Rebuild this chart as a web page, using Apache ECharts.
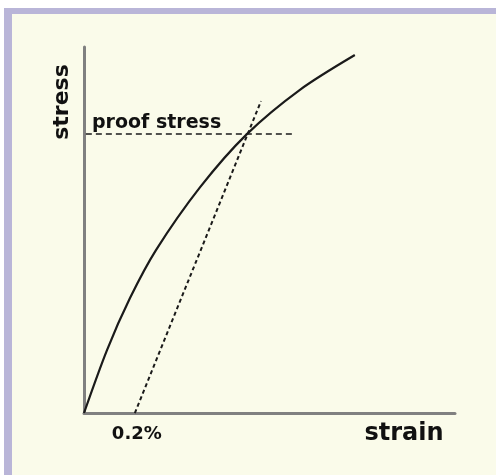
<!DOCTYPE html>
<html>
<head>
<meta charset="utf-8">
<script src="https://cdn.jsdelivr.net/npm/echarts@6/dist/echarts.min.js"></script>
<style>
  html, body { margin: 0; padding: 0; background: #fff; }
  #frame {
    position: absolute; left: 4px; top: 8px; width: 492px; height: 467px;
    box-sizing: border-box;
    border-left: 8px solid #b9b5d8; border-top: 6px solid #b9b5d8;
    background: #fafbea;
  }
  #chart { position: absolute; left: 0; top: 0; width: 496px; height: 475px; }
</style>
</head>
<body>
<div id="frame"></div>
<div id="chart"></div>
<script>
// stress-strain curve (normalised units)
const curveStrain = [0, 0.062, 0.124, 0.194, 0.313, 0.439, 0.582, 0.730];
const curveStress = [0, 0.172, 0.314, 0.445, 0.617, 0.762, 0.883, 0.978];

// 0.2% offset line, parallel to the elastic part
const offsetStrain = [0.137, 0.477];
const offsetStress = [0, 0.852];

// proof stress level
const proofStrain = [0.005, 0.563];
const proofStress = [0.762, 0.762];

const offsetTicks = [0.137];
const offsetTickLabels = ['0.2%'];

const pairs = (xs, ys) => xs.map((x, i) => [x, ys[i]]);

const chart = echarts.init(document.getElementById('chart'));
const font = 'DejaVu Sans';

chart.setOption({
  backgroundColor: 'transparent',
  animation: false,
  grid: { left: 84, right: 41, top: 47, bottom: 62 },
  xAxis: {
    type: 'value', min: 0, max: 1,
    splitLine: { show: false },
    axisTick: { show: false },
    axisLine: { lineStyle: { color: '#808080', width: 3 } },
    axisLabel: {
      customValues: offsetTicks,
      formatter: v => offsetTickLabels[offsetTicks.indexOf(v)] || '',
      margin: 12,
      padding: [0, 0, 0, 4],
      color: '#111', fontFamily: font, fontWeight: 'bold', fontSize: 18
    }
  },
  yAxis: {
    type: 'value', min: 0, max: 1,
    splitLine: { show: false },
    axisTick: { show: false },
    axisLabel: { show: false },
    axisLine: { show: true, lineStyle: { color: '#808080', width: 3 } }
  },
  series: [
    {
      type: 'line', data: pairs(curveStrain, curveStress),
      smooth: 0.3, symbol: 'none',
      lineStyle: { color: '#1a1a1a', width: 2.2 }
    },
    {
      type: 'line', data: pairs(offsetStrain, offsetStress),
      symbol: 'none',
      lineStyle: { color: '#1a1a1a', width: 2, type: [4, 3] }
    },
    {
      type: 'line', data: pairs(proofStrain, proofStress),
      symbol: 'none',
      lineStyle: { color: '#1a1a1a', width: 1.5, type: [6, 4] }
    }
  ],
  graphic: [
    {
      type: 'text', x: 62, y: 102, rotation: Math.PI / 2,
      style: { text: 'stress', fill: '#111', font: 'bold 22px "DejaVu Sans"', align: 'center', verticalAlign: 'middle' }
    },
    {
      type: 'text', x: 92, y: 123,
      style: { text: 'proof stress', fill: '#111', font: 'bold 19px "DejaVu Sans"', align: 'left', verticalAlign: 'middle' }
    },
    {
      type: 'text', x: 404, y: 434,
      style: { text: 'strain', fill: '#111', font: 'bold 24px "DejaVu Sans"', align: 'center', verticalAlign: 'middle' }
    }
  ]
});

window.addEventListener('resize', () => chart.resize());
</script>
</body>
</html>
